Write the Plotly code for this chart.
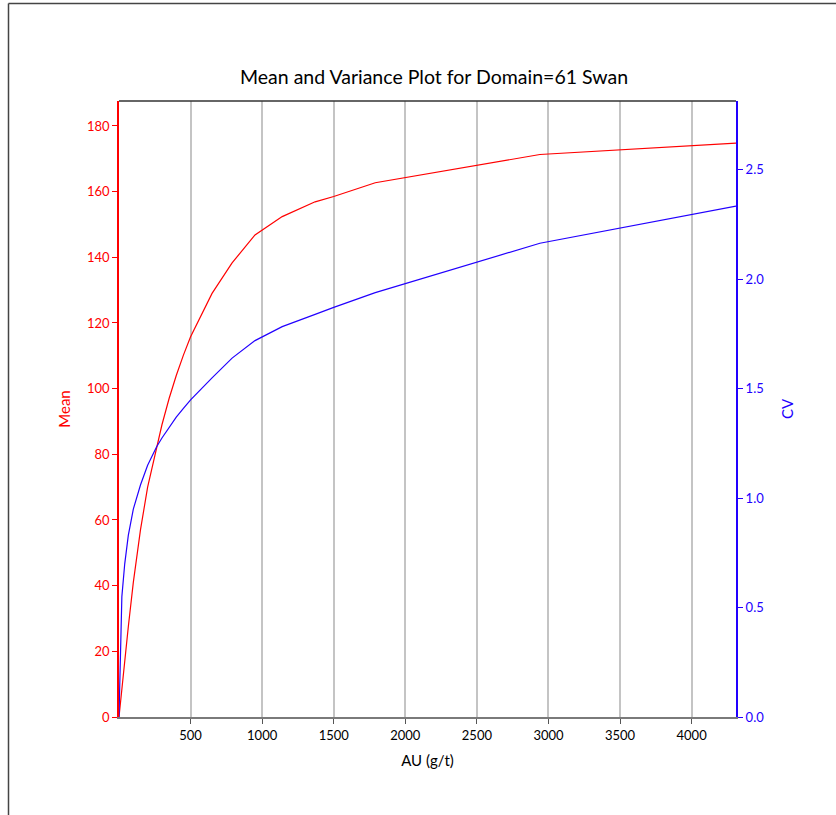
import plotly.graph_objects as go

au = [0, 20, 40, 65, 100, 150, 200, 263, 300, 350, 400, 450, 500, 650, 790, 950, 1140, 1370, 1500, 1790, 2940, 4310]
mean = [0, 9, 17.5, 27.5, 41, 57, 70, 82.3, 89.0, 97.0, 104.0, 110.2, 115.8, 129, 138.3, 146.8, 152.4, 156.9, 158.5, 162.7, 171.3, 174.8]
cv = [0, 0.55, 0.70, 0.83, 0.95, 1.06, 1.15, 1.235, 1.275, 1.325, 1.37, 1.41, 1.449, 1.55, 1.64, 1.72, 1.784, 1.84, 1.872, 1.939, 2.165, 2.335]

xticks = [500, 1000, 1500, 2000, 2500, 3000, 3500, 4000]
mean_ticks = [0, 20, 40, 60, 80, 100, 120, 140, 160, 180]
cv_ticks = [0.0, 0.5, 1.0, 1.5, 2.0, 2.5]

FONT = "Lato"
RED = "#ff0000"
BLUE = "#2200ff"

L, T = 119, 101
PW, PH = 617, 616
R = 836 - L - PW
B = 815 - T - PH

fig = go.Figure()
fig.add_trace(go.Scatter(x=au, y=mean, mode="lines", line=dict(color=RED, width=1.2),
                         name="Mean", showlegend=False))
fig.add_trace(go.Scatter(x=au, y=cv, mode="lines", line=dict(color=BLUE, width=1.2),
                         name="CV", yaxis="y2", showlegend=False))

fx = lambda px: (px - L) / PW
fy = lambda py: (T + PH - py) / PH

fig.update_layout(
    width=836, height=815,
    margin=dict(l=L, r=R, t=T, b=B),
    paper_bgcolor="white", plot_bgcolor="white",
    font=dict(family=FONT, size=13, color="black"),
    title=dict(text="Mean and Variance Plot for Domain=61 Swan", x=fx(434), xref="paper", xanchor="center",
               y=1 - 77 / 815, yanchor="middle", font=dict(size=19.5, family=FONT, color="black")),
    xaxis=dict(range=[0, 4310], tickvals=xticks, showgrid=True, gridcolor="#c4c4c4", gridwidth=1.5,
               zeroline=False, showline=True, linecolor="#7a7a7a", linewidth=2, mirror=False,
               ticks="outside", ticklen=5, tickcolor="#555", tickfont=dict(size=13, color="black"),
               title=dict(text="AU (g/t)", font=dict(size=15, color="black"), standoff=14)),
    yaxis=dict(range=[0, 187.6], tickvals=mean_ticks, showgrid=False, zeroline=False,
               showline=True, linecolor=RED, linewidth=1.5, ticks="outside", ticklen=5,
               tickcolor=RED, tickfont=dict(size=13, color=RED),
               title=dict(text="Mean", font=dict(size=15, color=RED), standoff=13)),
    yaxis2=dict(range=[0, 2.815], tickvals=cv_ticks, tickformat=".1f", overlaying="y", side="right",
                showgrid=False, zeroline=False, showline=True, linecolor=BLUE, linewidth=2,
                ticks="outside", ticklen=5, tickcolor=BLUE, tickfont=dict(size=13, color=BLUE),
                title=dict(text="CV", font=dict(size=15, color=BLUE), standoff=19)),
    shapes=[
        dict(type="line", xref="paper", yref="paper", x0=0, x1=1, y0=1, y1=1,
             line=dict(color="#333333", width=1.5)),
        dict(type="line", xref="paper", yref="paper", x0=fx(8.5), x1=fx(8.5),
             y0=fy(3.5), y1=fy(830), line=dict(color="#444444", width=1.5)),
        dict(type="line", xref="paper", yref="paper", x0=fx(8.5), x1=fx(850),
             y0=fy(3.5), y1=fy(3.5), line=dict(color="#444444", width=1.5)),
    ],
)

fig.write_html("out.html", config={"displayModeBar": False},
               post_script="document.body.style.margin='0';")
